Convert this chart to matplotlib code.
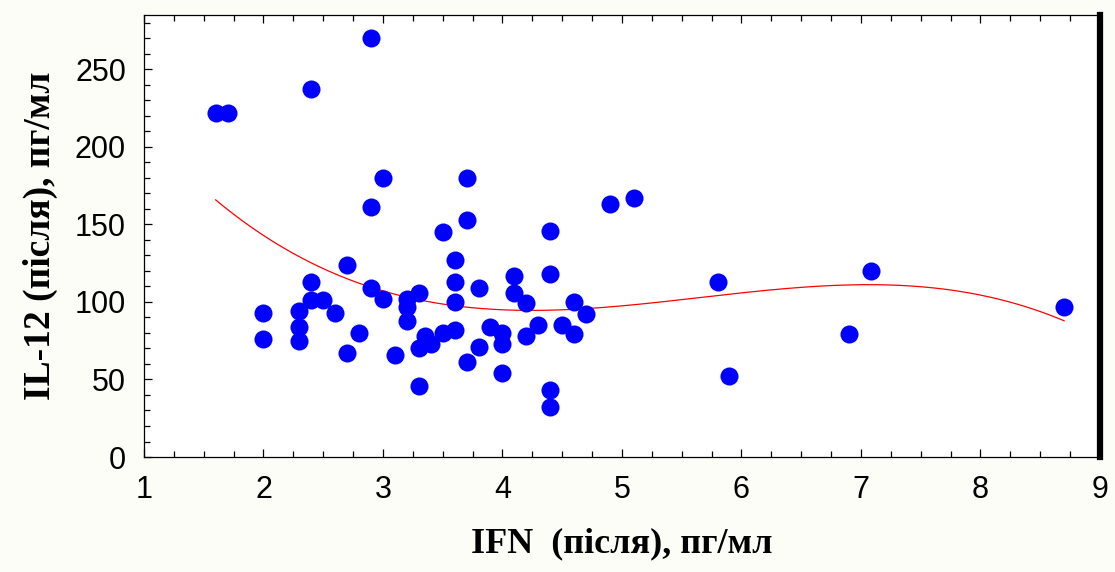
import numpy as np
import matplotlib
matplotlib.use("Agg")
import matplotlib.pyplot as plt
from matplotlib.ticker import MultipleLocator

ifn = [1.6, 1.7, 2.0, 2.0, 2.3, 2.3, 2.3, 2.4, 2.4, 2.4, 2.5, 2.6, 2.7, 2.7, 2.8,
       2.9, 2.9, 2.9, 3.0, 3.0, 3.1, 3.2, 3.2, 3.2, 3.3, 3.3, 3.3, 3.35, 3.4, 3.5,
       3.5, 3.6, 3.6, 3.6, 3.6, 3.7, 3.7, 3.7, 3.8, 3.8, 3.9, 4.0, 4.0, 4.0, 4.1,
       4.1, 4.2, 4.2, 4.3, 4.4, 4.4, 4.4, 4.4, 4.5, 4.6, 4.6, 4.7, 4.9, 5.1, 5.8,
       5.9, 6.9, 7.08, 8.7]
il12 = [222, 222, 93, 76, 94, 84, 75, 237, 113, 101, 101, 93, 124, 67, 80,
        270, 161, 109, 180, 102, 66, 102, 97, 88, 106, 70, 46, 78, 73, 145,
        80, 127, 113, 100, 82, 180, 153, 61, 109, 71, 84, 80, 73, 54, 117,
        106, 99, 78, 85, 146, 118, 43, 32, 85, 100, 79, 92, 163, 167, 113,
        52, 79, 120, 97]

x_ticks = [1, 2, 3, 4, 5, 6, 7, 8, 9]
y_ticks = [0, 50, 100, 150, 200, 250]
xlabel = "IFN  (після), пг/мл"
ylabel = "IL-12 (після), пг/мл"

fig = plt.figure(figsize=(11.15, 5.72), dpi=100, facecolor="#fdfdf8")
ax = fig.add_axes([0.1291, 0.2010, 0.8574, 0.7728])
ax.set_facecolor("white")

x = np.array(ifn)
y = np.array(il12)
coef = np.polyfit(x, y, 3)
xs = np.linspace(x.min(), x.max(), 300)
ax.plot(xs, np.polyval(coef, xs), color="red", lw=0.9, zorder=2)
ax.plot(x, y, "o", color="#0000ff", ms=13, mec="#0000ff", mew=0, zorder=3)

ax.set_xlim(1, 9)
ax.set_ylim(0, 285)
ax.set_xticks(x_ticks)
ax.set_yticks(y_ticks)
ax.xaxis.set_minor_locator(MultipleLocator(0.25))
ax.yaxis.set_minor_locator(MultipleLocator(10))
ax.tick_params(which="both", direction="in", top=True, right=False, width=0.9,
               labelsize=22, colors="black")
ax.tick_params(which="major", length=6, pad=13)
ax.tick_params(which="minor", length=4)
for lab in ax.get_xticklabels() + ax.get_yticklabels():
    lab.set_fontfamily("Liberation Sans")
for s in ["left", "bottom", "top"]:
    ax.spines[s].set_linewidth(0.9)
ax.spines["right"].set_linewidth(4.5)

ax.set_xlabel(xlabel, fontfamily="Liberation Serif", fontweight="bold",
              fontsize=26, labelpad=16)
ax.set_ylabel(ylabel, fontfamily="Liberation Serif", fontweight="bold",
              fontsize=27, labelpad=12)

fig.savefig("out.png", dpi=100, facecolor=fig.get_facecolor())
